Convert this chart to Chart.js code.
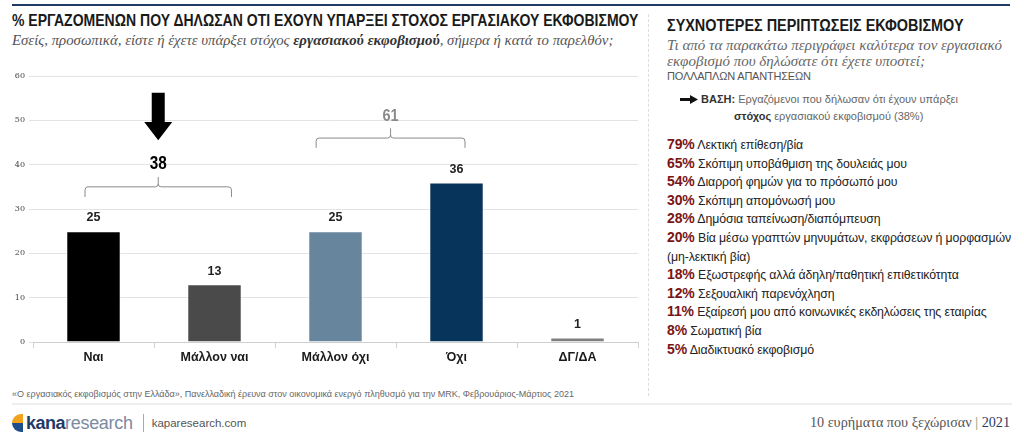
<!DOCTYPE html>
<html>
<head>
<meta charset="utf-8">
<script src="https://cdn.jsdelivr.net/npm/chart.js@4.4.1/dist/chart.umd.min.js"></script>
<style>
  html, body { margin: 0; padding: 0; background: #fff; }
  body { width: 1024px; height: 441px; position: relative; overflow: hidden; font-family: "Liberation Sans", Arial, sans-serif; }
  .topline { position: absolute; left: 12px; top: 4px; width: 998px; height: 2px; background: #1f3a64; }
  .title { position: absolute; left: 12px; top: 11px; font-weight: bold; font-size: 17px; color: #1a1a1a; white-space: nowrap; transform: scaleX(0.825); transform-origin: left top; }
  .subtitle { position: absolute; left: 12px; top: 32px; font-family: "Liberation Serif", serif; font-style: italic; font-size: 14.8px; color: #555; white-space: nowrap; }
  .subtitle b { color: #333; }
  #chartBox { position: absolute; left: 0; top: 60px; width: 645px; height: 310px; }
  .vsep { position: absolute; left: 648px; top: 14px; height: 382px; border-left: 1px dashed #ddd; }
  .rtitle { position: absolute; left: 667px; top: 17px; font-weight: bold; font-size: 16px; color: #1a1a1a; white-space: nowrap; transform: scaleX(0.9); transform-origin: left top; }
  .rsub { position: absolute; left: 667px; top: 37px; width: 352px; font-family: "Liberation Serif", serif; font-style: italic; font-size: 15px; line-height: 16px; color: #666; }
  .rmulti { position: absolute; left: 667px; top: 70px; font-size: 11px; color: #555; letter-spacing: -0.2px; }
  .base { position: absolute; left: 680px; top: 91px; font-size: 11px; color: #666; line-height: 17px; }
  .base .arr { position: absolute; left: 0; top: 4px; }
  .base .l1 { position: absolute; left: 21px; top: 0; white-space: nowrap; }
  .base .l2 { position: absolute; left: 54px; top: 17px; white-space: nowrap; }
  .base b { color: #333; }
  #list { position: absolute; left: 667px; top: 136px; width: 355px; }
  .item { font-size: 12.3px; color: #222; line-height: 18.6px; letter-spacing: -0.1px; }
  .item .pct { color: #7a1416; font-weight: bold; font-size: 14px; line-height: 1px; }
  .source { position: absolute; left: 12px; top: 389px; font-size: 9px; color: #666; white-space: nowrap; }
  .footline { position: absolute; left: 12px; top: 403px; width: 1000px; height: 2px; background: #eee; }
  .logo { position: absolute; left: 12px; top: 413px; height: 20px; display: flex; align-items: center; white-space: nowrap; }
  .logo .mark { width: 11px; height: 18px; position: relative; margin-right: 3px; }
  .logo .mark .o { position: absolute; left: 0; top: 0; width: 11px; height: 9px; background: #f2a21b; border-radius: 9px 0 0 0; }
  .logo .mark .b { position: absolute; left: 0; top: 9px; width: 11px; height: 9px; background: #1f4e8c; border-radius: 0 0 0 9px; }
  .logo .kana { font-weight: bold; font-size: 18px; color: #1f3a64; letter-spacing: -0.5px; }
  .logo .res { font-size: 18px; color: #7c8aa0; letter-spacing: -0.3px; }
  .logo .pipe { width: 1px; height: 18px; background: #aaa; margin: 0 8px 0 10px; }
  .logo .url { font-size: 11.5px; color: #555; }
  .footr { position: absolute; right: 14px; top: 414px; font-family: "Liberation Serif", serif; font-size: 14.2px; color: #555; white-space: nowrap; }
  .footr .bar { color: #6a9a6a; }
  .footr .yr { color: #1f3a64; }
</style>
</head>
<body>
<div class="topline"></div>
<div class="title">% ΕΡΓΑΖΟΜΕΝΩΝ ΠΟΥ ΔΗΛΩΣΑΝ ΟΤΙ ΕΧΟΥΝ ΥΠΑΡΞΕΙ ΣΤΟΧΟΣ ΕΡΓΑΣΙΑΚΟΥ ΕΚΦΟΒΙΣΜΟΥ</div>
<div class="subtitle">Εσείς, προσωπικά, είστε ή έχετε υπάρξει στόχος <b>εργασιακού εκφοβισμού</b>, σήμερα ή κατά το παρελθόν;</div>
<div id="chartBox"><canvas id="barChart"></canvas></div>
<div class="vsep"></div>

<div class="rtitle">ΣΥΧΝΟΤΕΡΕΣ ΠΕΡΙΠΤΩΣΕΙΣ ΕΚΦΟΒΙΣΜΟΥ</div>
<div class="rsub">Τι από τα παρακάτω περιγράφει καλύτερα τον εργασιακό εκφοβισμό που δηλώσατε ότι έχετε υποστεί;</div>
<div class="rmulti">ΠΟΛΛΑΠΛΩΝ ΑΠΑΝΤΗΣΕΩΝ</div>
<div class="base">
  <svg class="arr" width="18" height="9" viewBox="0 0 18 9"><rect x="0" y="3" width="11" height="3" fill="#111"/><polygon points="10,0 18,4.5 10,9" fill="#111"/></svg>
  <div class="l1"><b>ΒΑΣΗ:</b> Εργαζόμενοι που δήλωσαν ότι έχουν υπάρξει</div>
  <div class="l2"><b>στόχος</b> εργασιακού εκφοβισμού (38%)</div>
</div>
<div id="list"></div>

<div class="source">«Ο εργασιακός εκφοβισμός στην Ελλάδα», Πανελλαδική έρευνα στον οικονομικά ενεργό πληθυσμό για την MRK, Φεβρουάριος-Μάρτιος 2021</div>
<div class="footline"></div>
<div class="logo">
  <div class="mark"><div class="o"></div><div class="b"></div></div>
  <span class="kana">kana</span><span class="res">research</span>
  <div class="pipe"></div>
  <span class="url">kaparesearch.com</span>
</div>
<div class="footr">10 ευρήματα που ξεχώρισαν <span class="bar">|</span> <span class="yr">2021</span></div>

<script>
// --- DATA ---
const categories = ["Ναι", "Μάλλον ναι", "Μάλλον όχι", "Όχι", "ΔΓ/ΔΑ"];
const shares = [25, 13, 25, 36, 1];
const barColors = ["#000000", "#4a4a4a", "#67859c", "#07345a", "#7f7f7f"];
const yTicks = [0, 10, 20, 30, 40, 50, 60];

// grouped totals shown with brackets over the bars
const groupLabels = ["38", "61"];
const groupFrom = [0, 2];
const groupTo = [1, 3];

// right-hand list
const typePcts = [79, 65, 54, 30, 28, 20, 18, 12, 11, 8, 5];
const typeNames = [
  "Λεκτική επίθεση/βία",
  "Σκόπιμη υποβάθμιση της δουλειάς μου",
  "Διαρροή φημών για το πρόσωπό μου",
  "Σκόπιμη απομόνωσή μου",
  "Δημόσια ταπείνωση/διαπόμπευση",
  "Βία μέσω γραπτών μηνυμάτων, εκφράσεων ή μορφασμών (μη-λεκτική βία)",
  "Εξωστρεφής αλλά άδηλη/παθητική επιθετικότητα",
  "Σεξουαλική παρενόχληση",
  "Εξαίρεσή μου από κοινωνικές εκδηλώσεις της εταιρίας",
  "Σωματική βία",
  "Διαδικτυακό εκφοβισμό"
];

const list = document.getElementById("list");
typeNames.forEach((name, i) => {
  const div = document.createElement("div");
  div.className = "item";
  div.innerHTML = `<span class="pct">${typePcts[i]}%</span> ${name}`;
  list.appendChild(div);
});

// value labels above bars
const valueLabels = {
  id: "valueLabels",
  afterDatasetsDraw(chart) {
    const ctx = chart.ctx;
    const meta = chart.getDatasetMeta(0);
    ctx.save();
    ctx.font = "bold 12.5px 'Liberation Sans', sans-serif";
    ctx.fillStyle = "#222";
    ctx.textAlign = "center";
    ctx.textBaseline = "bottom";
    meta.data.forEach((bar, i) => {
      ctx.fillText(shares[i], bar.x, bar.y - 7);
    });
    ctx.restore();
  }
};

// brackets, totals and the arrow
const groupBrackets = {
  id: "groupBrackets",
  afterDatasetsDraw(chart) {
    const ctx = chart.ctx;
    const x = chart.scales.x, y = chart.scales.y;
    const step = x.getPixelForValue(1) - x.getPixelForValue(0);
    // per bracket: vertical level (in %) of line ends, line, tip, label
    const levels = [[32.7, 35.0, 37.2, 40.2], [43.8, 46.0, 48.2, 51.0]];
    const offsets = [[-0.07, 0.14], [-0.16, 0.07]];
    const colors = ["#000", "#8a8a8a"];
    const sizes = [18, 17];
    groupLabels.forEach((lab, g) => {
      const x0 = x.getPixelForValue(groupFrom[g]) + offsets[g][0] * step;
      const x1 = x.getPixelForValue(groupTo[g]) + offsets[g][1] * step;
      const xm = (x0 + x1) / 2;
      const yEnd = y.getPixelForValue(levels[g][0]);
      const yLine = y.getPixelForValue(levels[g][1]);
      const yTip = y.getPixelForValue(levels[g][2]);
      const r = 3;
      ctx.save();
      ctx.strokeStyle = "#8a8a8a";
      ctx.lineWidth = 1;
      ctx.beginPath();
      ctx.moveTo(x0, yEnd);
      ctx.lineTo(x0, yLine + r);
      ctx.quadraticCurveTo(x0, yLine, x0 + r, yLine);
      ctx.lineTo(xm - r, yLine);
      ctx.quadraticCurveTo(xm, yLine, xm, yLine - r);
      ctx.lineTo(xm, yTip);
      ctx.moveTo(xm, yLine - r);
      ctx.quadraticCurveTo(xm, yLine, xm + r, yLine);
      ctx.lineTo(x1 - r, yLine);
      ctx.quadraticCurveTo(x1, yLine, x1, yLine + r);
      ctx.lineTo(x1, yEnd);
      ctx.stroke();
      ctx.font = `bold ${sizes[g]}px 'Liberation Sans', sans-serif`;
      ctx.fillStyle = colors[g];
      ctx.textAlign = "center";
      ctx.textBaseline = "middle";
      ctx.translate(xm, y.getPixelForValue(levels[g][3]));
      ctx.scale(0.85, 1);
      ctx.fillText(lab, 0, 0);
      ctx.setTransform(chart.currentDevicePixelRatio, 0, 0, chart.currentDevicePixelRatio, 0, 0);
      if (g === 0) {
        const yTop = y.getPixelForValue(56.2);
        const yNeck = y.getPixelForValue(49.6);
        const yHead = y.getPixelForValue(45.5);
        ctx.fillStyle = "#000";
        ctx.beginPath();
        ctx.moveTo(xm - 6.5, yTop);
        ctx.lineTo(xm + 6.5, yTop);
        ctx.lineTo(xm + 6.5, yNeck);
        ctx.lineTo(xm + 14, yNeck);
        ctx.lineTo(xm, yHead);
        ctx.lineTo(xm - 14, yNeck);
        ctx.lineTo(xm - 6.5, yNeck);
        ctx.closePath();
        ctx.fill();
      }
      ctx.restore();
    });
  }
};

new Chart(document.getElementById("barChart"), {
  type: "bar",
  data: {
    labels: categories,
    datasets: [{
      data: shares,
      backgroundColor: barColors,
      borderColor: "rgba(255,255,255,0.6)",
      borderWidth: 1,
      barPercentage: 0.9,
      categoryPercentage: 0.5
    }]
  },
  options: {
    responsive: true,
    maintainAspectRatio: false,
    animation: false,
    layout: { padding: { top: 16, right: 7, left: 0, bottom: 0 } },
    plugins: { legend: { display: false }, tooltip: { enabled: false } },
    scales: {
      x: {
        grid: { display: true, offset: true, drawOnChartArea: false, tickLength: 6, color: "#d0d0d0" },
        border: { display: true, color: "#cfcfcf" },
        ticks: {
          color: "#1a1a1a",
          padding: 2,
          font: { family: "'Liberation Sans', sans-serif", size: 12.5, weight: "bold" }
        },
        afterFit(scale) { scale.height = 28; }
      },
      y: {
        min: 0,
        max: 60,
        afterBuildTicks(scale) { scale.ticks = yTicks.map(v => ({ value: v })); },
        grid: { color: "#e3e3e3", tickLength: 4 },
        border: { display: false },
        ticks: {
          color: "#444",
          padding: 4,
          font: { family: "'DejaVu Serif', serif", size: 8 }
        },
        afterFit(scale) { scale.width = 33; }
      }
    }
  },
  plugins: [valueLabels, groupBrackets]
});
</script>
</body>
</html>
